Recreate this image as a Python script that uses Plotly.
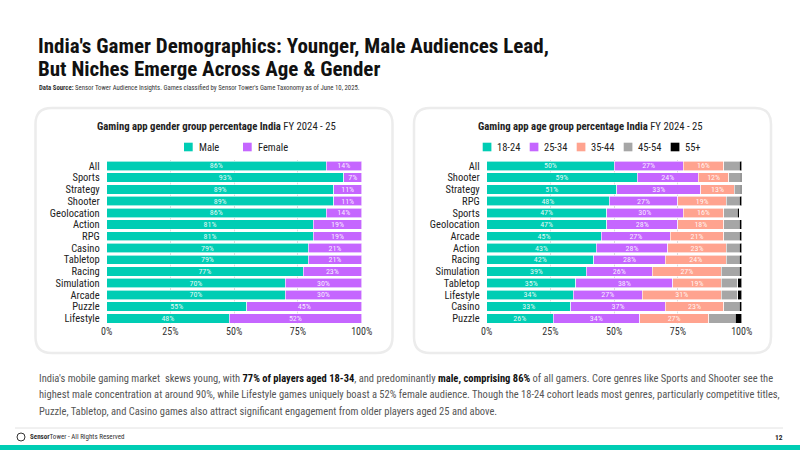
import plotly.graph_objects as go

W, H = 800, 450
def fx(x): return x / W
def fy(y): return 1 - y / H

FONT = "Liberation Sans Narrow, Arial Narrow, Roboto Condensed, Liberation Sans, sans-serif"

# ---------------- data ----------------
gender_cats = ["All", "Sports", "Strategy", "Shooter", "Geolocation", "Action", "RPG",
               "Casino", "Tabletop", "Racing", "Simulation", "Arcade", "Puzzle", "Lifestyle"]
male = [86, 93, 89, 89, 86, 81, 81, 79, 79, 77, 70, 70, 55, 48]
female = [14, 7, 11, 11, 14, 19, 19, 21, 21, 23, 30, 30, 45, 52]

age_cats = ["All", "Shooter", "Strategy", "RPG", "Sports", "Geolocation", "Arcade", "Action",
            "Racing", "Simulation", "Tabletop", "Lifestyle", "Casino", "Puzzle"]
age_18_24 = [50, 59, 51, 48, 47, 47, 45, 43, 42, 39, 35, 34, 33, 26]
age_25_34 = [27, 24, 33, 27, 30, 28, 27, 28, 28, 26, 38, 27, 37, 34]
age_35_44 = [16, 12, 13, 19, 16, 18, 21, 23, 24, 27, 19, 31, 23, 27]
age_45_54 = [6, 4.5, 2.5, 5, 5.3, 6, 6, 5, 5, 7, 6.5, 6.5, 6, 10.5]
age_55p = [1, 0.5, 0.5, 1, 0.7, 1, 1, 1, 1, 1, 1.5, 1.5, 1, 2.5]

gender_names = ["Male", "Female"]
age_names = ["18-24", "25-34", "35-44", "45-54", "55+"]

ticks = [0, 25, 50, 75, 100]
tick_labels = ["0%", "25%", "50%", "75%", "100%"]

TEAL = "#00CDB4"
PURPLE = "#C566FF"
SALMON = "#FFA38F"
GRAY = "#A6A6A6"
BLACK = "#000000"
gender_colors = [TEAL, PURPLE]
age_colors = [TEAL, PURPLE, SALMON, GRAY, BLACK]

fig = go.Figure()

def add_bar(x, y, name, color, xa, ya, show_text=True):
    fig.add_trace(go.Bar(
        x=x, y=y, name=name, orientation="h",
        marker=dict(color=color, line=dict(color="white", width=0.6)),
        text=[f"{round(v)}%" for v in x] if show_text else None,
        textposition="inside" if show_text else "none",
        insidetextanchor="middle",
        textfont=dict(color="rgba(255,255,255,0.9)", size=8, family=FONT),
        constraintext="none",
        xaxis=xa, yaxis=ya, showlegend=False,
        hoverinfo="skip",
    ))

for vals, nm, col in zip([male, female], gender_names, gender_colors):
    add_bar(vals, gender_cats, nm, col, "x", "y")
for i, (vals, nm, col) in enumerate(zip([age_18_24, age_25_34, age_35_44, age_45_54, age_55p], age_names, age_colors)):
    add_bar(vals, age_cats, nm, col, "x2", "y2", show_text=i < 3)

xcommon = dict(range=[0, 100], tickvals=ticks, ticktext=tick_labels, showgrid=True,
               gridcolor="#dcdcdc", gridwidth=1, zeroline=False, showline=False,
               ticks="", tickfont=dict(size=10, color="#333", family=FONT), fixedrange=True,
               automargin=False)
ycommon = dict(type="category", autorange="reversed", showgrid=False, zeroline=False,
               ticks="", ticklabelstandoff=6, automargin=False,
               tickfont=dict(size=10.5, color="#222", family=FONT), fixedrange=True)

y_dom = [fy(324.2), fy(160.1)]
fig.update_layout(
    width=W, height=H,
    margin=dict(l=0, r=0, t=0, b=0),
    paper_bgcolor="white", plot_bgcolor="rgba(0,0,0,0)",
    barmode="stack", bargap=0.2, showlegend=False,
    font=dict(family=FONT, color="#222"),
    xaxis=dict(domain=[fx(106.7), fx(361.7)], anchor="y", **xcommon),
    yaxis=dict(domain=y_dom, anchor="x", tickmode="array", tickvals=gender_cats, **ycommon),
    xaxis2=dict(domain=[fx(486.7), fx(741.7)], anchor="y2", **xcommon),
    yaxis2=dict(domain=y_dom, anchor="x2", tickmode="array", tickvals=age_cats, **ycommon),
)

def rrect(x0, y0, x1, y1, r):
    return (f"M{fx(x0+r)},{fy(y0)} L{fx(x1-r)},{fy(y0)} Q{fx(x1)},{fy(y0)} {fx(x1)},{fy(y0+r)} "
            f"L{fx(x1)},{fy(y1-r)} Q{fx(x1)},{fy(y1)} {fx(x1-r)},{fy(y1)} "
            f"L{fx(x0+r)},{fy(y1)} Q{fx(x0)},{fy(y1)} {fx(x0)},{fy(y1-r)} "
            f"L{fx(x0)},{fy(y0+r)} Q{fx(x0)},{fy(y0)} {fx(x0+r)},{fy(y0)} Z")

shapes = []
ann = []
def A(x, y, text, size, color="#222", xanchor="left", **kw):
    ann.append(dict(x=fx(x), y=fy(y), xref="paper", yref="paper", text=text, showarrow=False,
                    xanchor=xanchor, yanchor="middle", font=dict(size=size, color=color, family=FONT), **kw))

for (x0, x1) in [(35.5, 392.5), (414, 771)]:
    shapes.append(dict(type="path", path=rrect(x0, 108, x1, 353, 16), xref="paper", yref="paper",
                       line=dict(color="#ececec", width=2.5), fillcolor="white", layer="below"))
shapes.append(dict(type="line", xref="paper", yref="paper", x0=fx(15), x1=fx(783), y0=fy(428), y1=fy(428),
                   line=dict(color="#e2e2e2", width=1)))
shapes.append(dict(type="rect", xref="paper", yref="paper", x0=0, x1=1, y0=0, y1=fy(445),
                   line=dict(width=0), fillcolor=TEAL))
shapes.append(dict(type="circle", xref="paper", yref="paper", x0=fx(17), x1=fx(25), y0=fy(441), y1=fy(433),
                   line=dict(color="#333", width=1)))

# manual legends
def legend(names, colors, x_start, step, y):
    for i, (nm, col) in enumerate(zip(names, colors)):
        sx = x_start + i * step
        shapes.append(dict(type="rect", xref="paper", yref="paper", x0=fx(sx), x1=fx(sx + 8.7),
                           y0=fy(y + 4.3), y1=fy(y - 4.3), line=dict(width=0), fillcolor=col))
        A(sx + 12.5, y, nm, 10.5, "#222")

legend(gender_names, gender_colors, 184, 59, 147)
legend(age_names, age_colors, 482.7, 47, 147)

fig.update_layout(shapes=shapes)

A(36, 46, "<b>India's Gamer Demographics: Younger, Male Audiences Lead,</b>", 21, "#111")
A(36, 68.5, "<b>But Niches Emerge Across Age & Gender</b>", 21, "#111")
A(37, 88, "<b>Data Source:</b> Sensor Tower Audience Insights. Games classified by Sensor Tower's Game Taxonomy as of June 10, 2025.",
  6.75, "#333")

A(216, 127, "<b>Gaming app gender group percentage India</b> FY 2024 - 25", 10.7, "#222", xanchor="center")
A(590, 127, "<b>Gaming app age group percentage India</b> FY 2024 - 25", 10.7, "#222", xanchor="center")

body = [
    "India's mobile gaming market  skews young, with <b><span style='color:#111'>77% of players aged 18-34</span></b>, and predominantly <b><span style='color:#111'>male, comprising 86%</span></b> of all gamers. Core genres like Sports and Shooter see the",
    "highest male concentration at around 90%, while Lifestyle games uniquely boast a 52% female audience. Though the 18-24 cohort leads most genres, particularly competitive titles,",
    "Puzzle, Tabletop, and Casino games also attract significant engagement from older players aged 25 and above.",
]
for i, line in enumerate(body):
    A(37, 378 + i * 16.5, line, 10.5, "#555")

A(28, 437, "<b>Sensor</b>Tower - All Rights Reserved", 7, "#333")
A(785, 437, "<b>12</b>", 7.5, "#222", xanchor="right")

fig.update_layout(annotations=ann)

fig.write_html("out.html")
